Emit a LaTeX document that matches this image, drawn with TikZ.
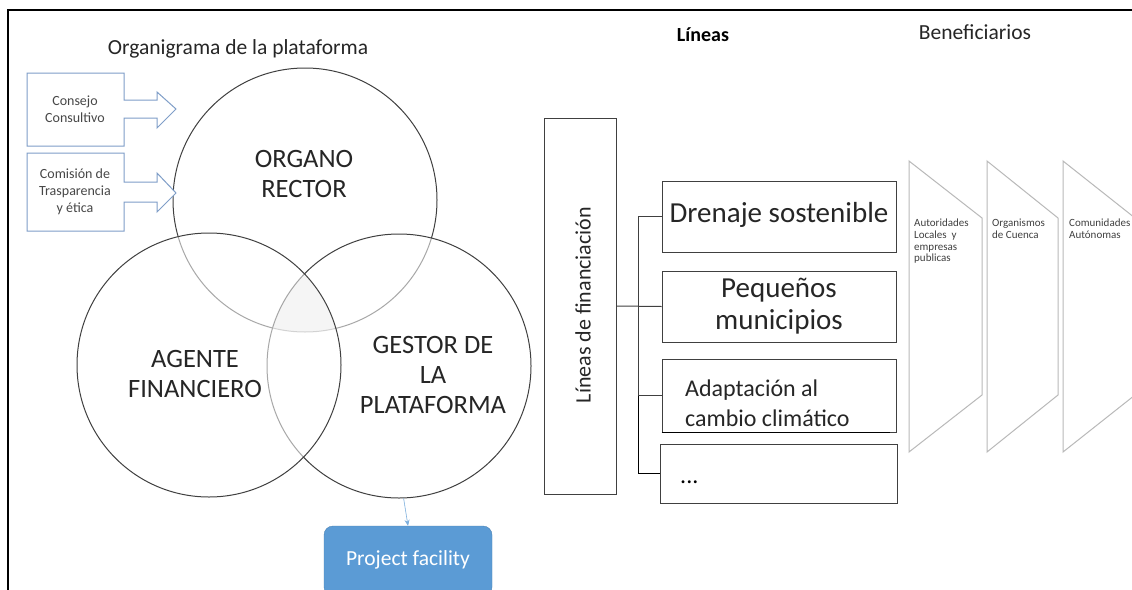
\documentclass[tikz,border=0pt]{standalone}
\usepackage{fontspec}
\setmainfont{Carlito}
\usetikzlibrary{arrows.meta}
\definecolor{boxblue}{HTML}{7F9EC8}
\definecolor{pfblue}{HTML}{5B9BD5}
\definecolor{txt}{HTML}{262626}
\definecolor{circline}{HTML}{404040}
\begin{document}
\begin{tikzpicture}[x=1pt,y=-1pt,
  vcirc/.style={circle, draw=circline, line width=1pt, minimum size=264pt, inner sep=0pt, fill=white, fill opacity=0.55, draw opacity=1},
  bigtxt/.style={text=txt, align=center, font=\fontsize{26.5}{30}\selectfont},
  blockarrow/.style={draw=boxblue, line width=1pt, fill=white},
  smalltxt/.style={text=txt!85, align=center, font=\fontsize{14}{17}\selectfont},
  linebox/.style={draw=black!75, line width=1pt, minimum width=234pt, inner sep=0pt},
  chev/.style={draw=gray!55, line width=1pt},
  bentxt/.style={anchor=north west, text=gray!50!black, align=left, inner sep=0pt, font=\fontsize{11}{11.7}\selectfont}
]
\useasboundingbox (0,0) rectangle (1132,589);
\clip (0,0) rectangle (1132,589);
\fill[white] (0,0) rectangle (1132,589);
% frame
\draw[line width=2pt] (8,592) -- (8,10) -- (1134,10);

% title
\node[text=txt, font=\fontsize{21.5}{24}\selectfont] (title) at (238,49) {Organigrama de la plataforma};

% circles (later ones fade the lines of earlier ones)
\node[vcirc] (org) at (305,200) {};
\node[vcirc] (ges) at (399,366) {};
\node[vcirc] (age) at (209,365) {};

% triple overlap shading
\begin{scope}
  \clip (305,200) circle (132pt);
  \clip (399,366) circle (132pt);
  \fill[gray, opacity=0.08] (209,365) circle (132pt);
\end{scope}

\node[bigtxt] (orgt) at (304,174) {ORGANO\\RECTOR};
\node[bigtxt] (aget) at (195,374) {AGENTE\\FINANCIERO};
\node[bigtxt] (gest) at (433,375) {GESTOR DE\\LA\\PLATAFORMA};

% block arrows
\draw[blockarrow] (27,73) -- (124,73) -- (124,100) -- (157,100) -- (157,92) -- (176,109) -- (157,128) -- (157,118) -- (124,118) -- (124,146) -- (27,146) -- cycle;
\node[smalltxt] (cons) at (75,109) {Consejo\\Consultivo};
\draw[blockarrow] (27,153) -- (124,153) -- (124,182) -- (157,182) -- (157,173) -- (176,193) -- (157,212) -- (157,202) -- (124,202) -- (124,231) -- (27,231) -- cycle;
\node[smalltxt] (comi) at (75,192) {Comisión de\\Trasparencia\\y ética};

% project facility
\node[draw=pfblue!85!black, fill=pfblue, rounded corners=9pt, minimum width=168pt, minimum height=70pt, inner sep=0pt] (pf) at (408,561) {};
\node[text=white, font=\fontsize{21.5}{24}\selectfont] (pft) at (408,560) {Project facility};
\draw[pfblue!80, line width=0.6pt, -{Stealth[length=6pt,width=5pt]}] (ges.272) -- (pf.north);

% headers
\node[font=\bfseries\fontsize{20}{24}\selectfont] (lin) at (703,35) {Líneas};
\node[text=txt, font=\fontsize{21.5}{24}\selectfont] (ben) at (975,32) {Beneficiarios};

% lineas de financiacion box
\node[draw=black!75, line width=1pt, minimum width=72pt, minimum height=376pt, inner sep=0pt] (lf) at (580,306) {};
\node[rotate=90, text=txt, font=\fontsize{22}{26}\selectfont] (lft) at (583,305) {Líneas de financiación};

% boxes
\node[linebox, minimum height=71pt] (b1) at (779,216.5) {};
\node[text=txt, font=\fontsize{29}{32}\selectfont] (b1t) at (779,215) {Drenaje sostenible};
\node[linebox, minimum height=71pt] (b2) at (779,306.5) {};
\node[text=txt, align=center, font=\fontsize{29}{32}\selectfont] (b2t) at (779,306) {Pequeños\\municipios};
\node[linebox, minimum height=73pt] (b3) at (779,395.5) {};
\node[anchor=west, text=txt, align=left, inner sep=0pt, font=\fontsize{24}{30}\selectfont] (b3t) at (685,403) {Adaptación al\\cambio climático};
\node[linebox, minimum width=237pt, minimum height=59pt] (b4) at (778.5,473.5) {};
\node[anchor=west, inner sep=0pt, font=\fontsize{24}{28}\selectfont] (b4t) at (680,482) {...};
\draw[black, line width=1.4pt] (b3.south west) -- ++(228,0);

% tree connectors
\draw[black!75, line width=1pt] (lf.east) -- (b2.west);
\draw[black!75, line width=1pt] (b1.west) -- ++(-23,0) coordinate (tt) -- (tt |- b3.west);
\draw[black!75, line width=1pt] (b3.west) -- (tt |- b3.west);
\draw[black, line width=1.4pt] (tt |- b3.west) |- (b4.west);

% beneficiarios chevrons
\draw[chev] (909,161) -- (982,218) -- (982,395) -- (909,452) -- cycle;
\draw[chev] (987,161) -- (1058,218) -- (1058,395) -- (987,452) -- cycle;
\draw[chev] (1063,161) -- (1135,218) -- (1135,395) -- (1063,452) -- cycle;
\node[bentxt] (be1) at (914,219) {Autoridades\\Locales\ \ y\\empresas\\publicas};
\node[bentxt] (be2) at (992,219) {Organismos\\de Cuenca};
\node[bentxt] (be3) at (1069,219) {Comunidades\\Autónomas};
\end{tikzpicture}
\end{document}
